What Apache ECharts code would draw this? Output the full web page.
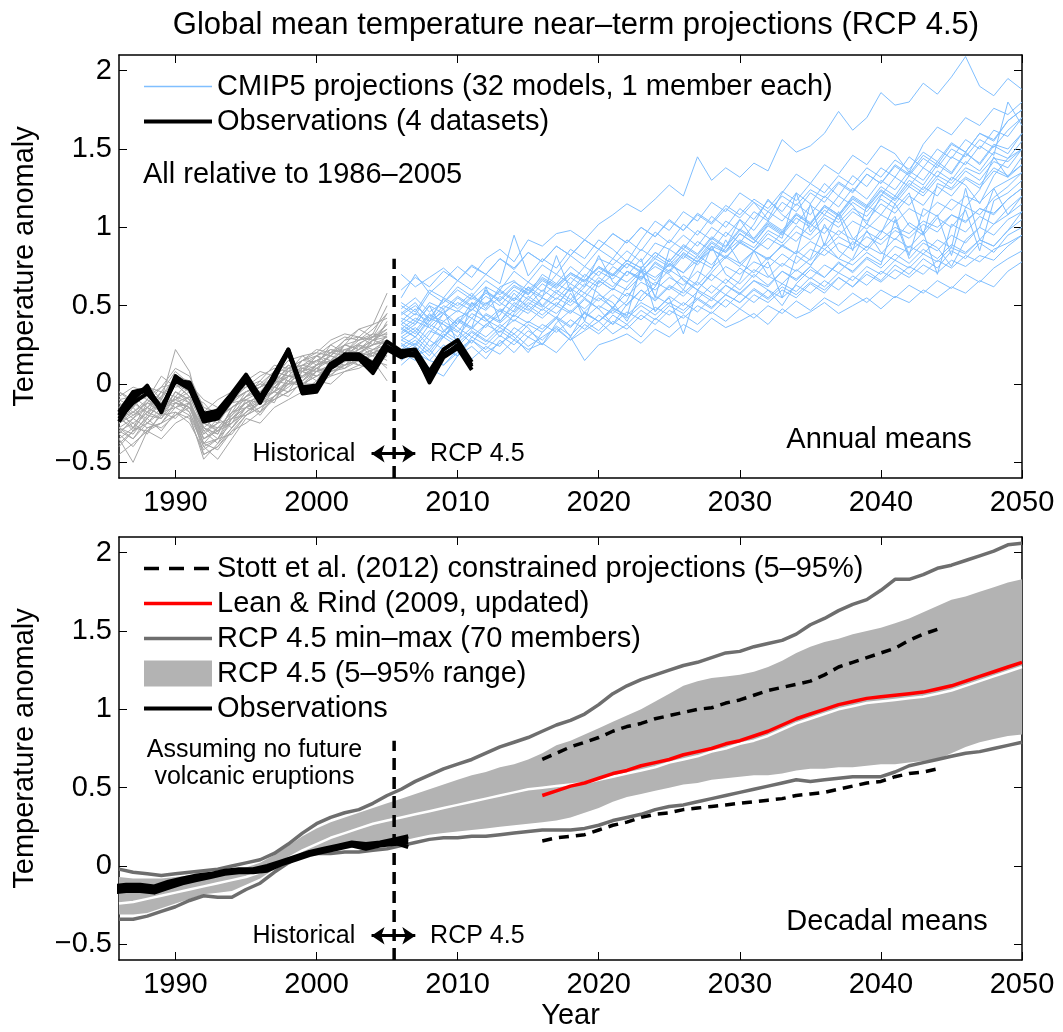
<!DOCTYPE html>
<html>
<head>
<meta charset="utf-8">
<script src="https://cdn.jsdelivr.net/npm/echarts@6/dist/echarts.min.js"></script>
<style>
html,body{margin:0;padding:0;background:#fff}
#chart{width:1063px;height:1032px}
</style>
</head>
<body>
<div id="chart"></div>
<script>
// ---------- years ----------
const histYears = [1986,1987,1988,1989,1990,1991,1992,1993,1994,1995,1996,1997,1998,1999,2000,2001,2002,2003,2004,2005];
const projYears = [2006,2007,2008,2009,2010,2011,2012,2013,2014,2015,2016,2017,2018,2019,2020,2021,2022,2023,2024,2025,2026,2027,2028,2029,2030,2031,2032,2033,2034,2035,2036,2037,2038,2039,2040,2041,2042,2043,2044,2045,2046,2047,2048,2049,2050];
const obsYears = [1986,1987,1988,1989,1990,1991,1992,1993,1994,1995,1996,1997,1998,1999,2000,2001,2002,2003,2004,2005,2006,2007,2008,2009,2010,2011];
const decYears = [1986,1987,1988,1989,1990,1991,1992,1993,1994,1995,1996,1997,1998,1999,2000,2001,2002,2003,2004,2005,2006,2007,2008,2009,2010,2011,2012,2013,2014,2015,2016,2017,2018,2019,2020,2021,2022,2023,2024,2025,2026,2027,2028,2029,2030,2031,2032,2033,2034,2035,2036,2037,2038,2039,2040,2041,2042,2043,2044,2045,2046,2047,2048,2049,2050];
const decObsYears = [1985.5,1986.5,1987.5,1988.5,1989.5,1990.5,1991.5,1992.5,1993.5,1994.5,1995.5,1996.5,1997.5,1998.5,1999.5,2000.5,2001.5,2002.5,2003.5,2004.5,2005.5,2006.5];
const stottYears = [2016,2017,2018,2019,2020,2021,2022,2023,2024,2025,2026,2027,2028,2029,2030,2031,2032,2033,2034,2035,2036,2037,2038,2039,2040,2041,2042,2043,2044];
const leanRindYears = [2016,2017,2018,2019,2020,2021,2022,2023,2024,2025,2026,2027,2028,2029,2030,2031,2032,2033,2034,2035,2036,2037,2038,2039,2040,2041,2042,2043,2044,2045,2046,2047,2048,2049,2050];

// ---------- tick labels ----------
const yearTicks = [1990,2000,2010,2020,2030,2040,2050];
const anomalyTicks = [-0.5,0,0.5,1,1.5,2];

// ---------- annual means: CMIP5 historical runs (1986-2005) ----------
const cmip5Historical = [
[-0.25,-0.20,-0.12,-0.18,-0.05,-0.10,-0.35,-0.30,-0.22,-0.15,-0.05,-0.02,0.05,0.02,0.12,0.18,0.15,0.22,0.25,0.30],
[-0.30,-0.35,-0.22,-0.10,-0.15,-0.08,-0.28,-0.35,-0.25,-0.10,-0.12,0.00,0.08,0.10,0.05,0.12,0.20,0.18,0.28,0.25],
[-0.10,-0.15,-0.05,-0.12,0.00,-0.05,-0.25,-0.20,-0.15,-0.08,0.02,-0.05,0.10,0.12,0.15,0.20,0.25,0.22,0.30,0.35],
[-0.35,-0.28,-0.30,-0.20,-0.18,-0.22,-0.45,-0.40,-0.30,-0.25,-0.18,-0.10,-0.05,0.00,0.05,0.08,0.10,0.15,0.12,0.20],
[-0.15,-0.05,-0.10,0.05,-0.02,0.00,-0.20,-0.25,-0.10,-0.05,0.00,0.08,0.05,0.15,0.20,0.18,0.28,0.30,0.25,0.40],
[-0.20,-0.25,-0.18,-0.22,-0.12,-0.15,-0.32,-0.22,-0.28,-0.18,-0.12,-0.05,0.00,0.08,0.02,0.15,0.12,0.20,0.18,0.22],
[-0.40,-0.30,-0.25,-0.28,-0.20,-0.12,-0.38,-0.42,-0.30,-0.20,-0.15,-0.08,-0.02,0.05,0.10,0.05,0.15,0.18,0.22,0.28],
[-0.05,-0.12,-0.08,-0.02,0.10,0.05,-0.15,-0.18,-0.08,0.00,-0.05,0.05,0.12,0.08,0.18,0.22,0.20,0.30,0.28,0.38],
[-0.28,-0.22,-0.15,-0.20,-0.08,-0.18,-0.40,-0.35,-0.18,-0.12,-0.20,-0.08,0.02,-0.02,0.08,0.10,0.18,0.12,0.20,0.18],
[-0.18,-0.10,-0.20,-0.08,0.02,-0.05,-0.22,-0.30,-0.20,-0.08,-0.02,0.02,0.00,0.10,0.15,0.12,0.22,0.25,0.32,0.30],
[-0.22,-0.28,-0.12,-0.15,-0.10,-0.02,-0.30,-0.25,-0.22,-0.15,-0.08,-0.12,0.05,0.08,0.12,0.18,0.14,0.20,0.25,0.27],
[-0.32,-0.40,-0.28,-0.25,-0.15,-0.20,-0.48,-0.38,-0.28,-0.18,-0.10,-0.05,-0.08,0.02,0.08,0.12,0.10,0.18,0.20,0.15],
[-0.08,-0.02,-0.05,-0.10,0.05,0.02,-0.18,-0.10,-0.05,-0.02,0.05,0.10,0.08,0.18,0.12,0.25,0.30,0.28,0.35,0.45],
[-0.25,-0.18,-0.22,-0.12,-0.10,-0.15,-0.28,-0.32,-0.15,-0.10,-0.18,-0.02,0.05,0.04,0.10,0.15,0.18,0.24,0.18,0.32],
[-0.45,-0.38,-0.30,-0.35,-0.25,-0.20,-0.40,-0.48,-0.35,-0.22,-0.25,-0.15,-0.10,-0.05,0.02,0.00,0.08,0.10,0.15,0.12],
[-0.12,-0.20,-0.15,-0.05,-0.08,0.02,-0.22,-0.15,-0.12,0.00,-0.08,0.05,0.15,0.10,0.08,0.20,0.22,0.18,0.28,0.33],
[-0.20,-0.15,0.00,-0.10,0.22,0.08,-0.28,-0.20,-0.10,-0.05,-0.02,0.02,0.10,0.15,0.18,0.12,0.25,0.35,0.30,0.45],
[-0.30,-0.25,-0.32,-0.18,-0.22,-0.12,-0.35,-0.28,-0.25,-0.15,-0.12,-0.02,-0.05,0.08,0.05,0.10,0.15,0.12,0.22,0.20],
[-0.15,-0.22,-0.10,-0.15,0.00,-0.08,-0.25,-0.28,-0.18,-0.05,0.00,-0.02,0.08,0.12,0.18,0.25,0.20,0.28,0.32,0.50],
[-0.35,-0.50,-0.30,-0.25,-0.20,-0.15,-0.38,-0.35,-0.22,-0.20,-0.12,-0.10,0.00,0.02,0.10,0.08,0.12,0.15,0.20,0.22],
[-0.18,-0.12,-0.18,-0.05,-0.12,-0.08,-0.12,-0.22,-0.15,-0.08,-0.02,0.05,0.02,0.12,0.10,0.18,0.25,0.22,0.28,0.30],
[-0.28,-0.32,-0.20,-0.22,-0.08,-0.12,-0.30,-0.38,-0.22,-0.12,-0.08,-0.05,0.08,0.05,0.12,0.15,0.18,0.25,0.22,0.25],
[-0.10,-0.08,-0.15,-0.08,0.05,-0.02,-0.20,-0.22,-0.10,-0.02,0.02,0.12,0.10,0.15,0.22,0.20,0.28,0.35,0.38,0.42],
[-0.38,-0.30,-0.22,-0.30,-0.18,-0.25,-0.42,-0.35,-0.32,-0.20,-0.15,-0.10,-0.05,0.00,0.00,0.05,0.08,0.12,0.10,0.18],
[-0.22,-0.18,-0.10,-0.18,-0.05,-0.10,-0.32,-0.25,-0.12,-0.10,-0.05,0.02,0.10,0.08,0.15,0.20,0.18,0.22,0.28,0.35],
[-0.15,-0.28,-0.18,-0.12,-0.10,-0.05,-0.25,-0.30,-0.20,-0.12,-0.08,0.00,0.05,0.05,0.12,0.15,0.22,0.20,0.25,0.28],
[-0.25,-0.15,-0.25,-0.15,-0.12,-0.18,-0.38,-0.28,-0.18,-0.15,-0.10,-0.05,0.02,0.10,0.08,0.12,0.18,0.25,0.20,0.24],
[-0.05,-0.10,-0.02,-0.05,0.08,0.00,-0.10,-0.15,-0.05,0.02,0.08,0.05,0.15,0.18,0.20,0.28,0.32,0.30,0.38,0.58],
[-0.32,-0.22,-0.28,-0.25,-0.12,-0.15,-0.35,-0.30,-0.25,-0.18,-0.12,-0.08,0.00,0.00,0.05,0.10,0.12,0.15,0.18,0.10],
[-0.20,-0.30,-0.15,-0.20,-0.05,-0.12,-0.28,-0.32,-0.15,-0.08,-0.05,0.00,0.12,0.08,0.18,0.15,0.25,0.28,0.30,0.38],
[-0.12,-0.18,-0.12,-0.02,0.00,-0.08,-0.20,-0.18,-0.12,-0.05,-0.02,0.08,0.05,0.15,0.14,0.22,0.20,0.26,0.30,0.32],
[-0.28,-0.35,-0.25,-0.18,-0.15,-0.12,-0.45,-0.40,-0.28,-0.15,-0.18,-0.08,0.02,0.00,0.08,0.06,0.12,0.18,0.15,0.02]
];

// ---------- annual means: CMIP5 RCP4.5 runs (2006-2050) ----------
const cmip5Rcp45 = [
[0.30,0.25,0.38,0.33,0.42,0.36,0.62,0.40,0.52,0.47,0.55,0.50,0.62,0.40,0.66,0.60,0.72,0.68,0.75,0.70,0.60,0.78,0.88,0.84,0.92,0.87,0.98,0.93,1.22,0.97,1.08,1.03,1.12,1.07,1.18,1.12,1.22,0.95,1.28,1.24,1.32,1.27,1.38,1.33,1.40],
[0.45,0.52,0.40,0.55,0.50,0.58,0.48,0.62,0.66,0.57,0.70,0.64,0.75,0.68,0.80,0.76,0.85,0.78,0.90,0.86,0.95,0.88,1.00,0.94,1.05,0.98,1.10,1.04,1.15,1.08,1.20,1.13,1.25,1.18,1.30,1.24,1.36,1.30,1.42,1.35,1.48,1.40,1.52,1.47,1.60],
[0.20,0.15,0.28,0.22,0.18,0.30,0.25,0.34,0.28,0.38,0.33,0.42,0.58,0.45,0.40,0.48,0.44,0.52,0.47,0.55,0.32,0.60,0.55,0.63,0.58,0.66,0.62,0.72,0.67,0.75,0.90,0.80,0.76,0.84,0.78,0.88,0.84,0.92,0.87,0.75,0.92,1.00,0.95,1.05,1.10],
[0.55,0.70,0.58,0.66,0.75,0.68,0.80,0.86,0.78,0.92,0.88,0.96,0.98,0.92,1.02,1.08,1.15,1.10,1.18,1.27,1.20,1.45,1.30,1.38,1.32,1.41,1.36,1.56,1.48,1.52,1.60,1.74,1.62,1.70,1.86,1.78,1.80,1.92,1.85,1.96,2.09,1.90,1.84,1.95,1.88],
[0.35,0.30,0.42,0.38,0.33,0.45,0.40,0.48,0.43,0.52,0.47,0.55,0.50,0.58,0.53,0.61,0.56,0.65,0.60,0.68,0.63,0.72,0.66,0.75,0.70,0.78,0.74,0.83,0.77,0.86,0.82,0.90,0.86,0.94,0.89,0.98,0.93,1.02,0.97,1.08,1.03,1.12,1.08,1.18,1.25],
[0.25,0.18,0.22,0.12,0.20,0.16,0.24,0.19,0.28,0.22,0.26,0.20,0.30,0.15,0.25,0.28,0.32,0.26,0.35,0.30,0.38,0.33,0.42,0.36,0.40,0.45,0.38,0.48,0.42,0.46,0.52,0.45,0.50,0.55,0.48,0.56,0.52,0.60,0.55,0.62,0.58,0.66,0.62,0.72,0.78],
[0.40,0.48,0.36,0.45,0.52,0.47,0.56,0.50,0.60,0.54,0.64,0.58,0.68,0.62,0.72,0.67,0.77,0.71,0.82,0.76,0.86,0.80,0.91,0.85,0.96,0.90,1.01,0.95,1.06,1.00,1.11,1.05,1.16,1.10,1.21,1.15,1.26,1.20,1.31,1.25,1.36,1.30,1.42,1.38,1.50],
[0.15,0.22,0.10,0.05,0.18,0.24,0.16,0.28,0.20,0.30,0.25,0.35,0.28,0.38,0.32,0.40,0.35,0.44,0.38,0.47,0.42,0.50,0.45,0.54,0.48,0.57,0.52,0.60,0.55,0.64,0.58,0.68,0.62,0.72,0.66,0.76,0.70,0.80,0.74,0.85,0.80,0.90,0.84,0.95,1.00],
[0.50,0.44,0.58,0.52,0.62,0.56,0.66,0.60,0.72,0.65,0.76,0.70,0.82,0.75,0.86,0.80,0.92,0.85,0.97,0.90,1.02,0.95,1.07,1.00,1.12,1.05,1.17,1.10,1.22,1.15,1.28,1.20,1.33,1.26,1.38,1.32,1.45,1.38,1.50,1.44,1.56,1.50,1.62,1.58,1.70],
[0.30,0.36,0.28,0.40,0.34,0.26,0.38,0.44,0.58,0.48,0.42,0.50,0.45,0.54,0.48,0.38,0.51,0.60,0.54,0.63,0.58,0.66,0.88,0.70,0.64,0.73,0.68,0.77,0.72,0.80,1.02,0.85,0.79,0.88,0.83,0.93,0.87,0.97,0.70,1.02,0.97,1.07,1.02,1.12,1.20],
[0.38,0.32,0.44,0.40,0.47,0.42,0.52,0.46,0.55,0.50,0.60,0.54,0.64,0.58,0.68,0.62,0.72,0.67,0.77,0.71,0.82,0.76,0.86,0.80,0.91,0.85,0.96,0.90,1.01,0.95,1.06,1.00,1.10,1.04,1.15,1.09,1.20,1.14,1.26,1.20,1.31,1.25,1.36,1.32,1.45],
[0.22,0.28,0.20,0.32,0.26,0.34,0.28,0.24,0.36,0.30,0.38,0.33,0.41,0.35,0.44,0.38,0.46,0.41,0.49,0.44,0.52,0.46,0.55,0.49,0.58,0.52,0.60,0.55,0.63,0.58,0.66,0.60,0.69,0.63,0.72,0.67,0.75,0.70,0.79,0.74,0.82,0.78,0.86,0.90,0.95],
[0.60,0.68,0.62,0.72,0.66,0.75,0.70,0.80,0.74,0.84,0.78,0.88,0.82,0.92,0.86,0.96,0.90,1.00,0.94,1.05,0.98,1.09,1.03,1.14,1.08,1.18,1.12,1.23,1.17,1.28,1.22,1.33,1.27,1.38,1.32,1.43,1.37,1.48,1.42,1.54,1.48,1.60,1.55,1.68,1.75],
[0.28,0.34,0.24,0.30,0.38,0.52,0.41,0.36,0.44,0.39,0.48,0.42,0.30,0.46,0.55,0.49,0.58,0.53,0.62,0.80,0.66,0.60,0.70,0.64,0.74,0.68,0.78,0.55,0.82,0.76,0.86,0.80,0.91,0.85,0.96,1.15,1.01,0.95,1.06,1.00,1.11,0.85,1.17,1.22,1.30],
[0.42,0.38,0.50,0.45,0.55,0.49,0.58,0.53,0.62,0.57,0.66,0.61,0.70,0.65,0.75,0.69,0.79,0.74,0.84,0.78,0.89,0.83,0.94,0.88,0.99,0.93,1.04,0.98,1.09,1.03,1.14,1.08,1.19,1.13,1.24,1.18,1.30,1.24,1.36,1.30,1.42,1.36,1.48,1.44,1.55],
[0.18,0.24,0.15,0.12,0.22,0.28,0.20,0.26,0.32,0.24,0.30,0.36,0.28,0.34,0.40,0.32,0.38,0.30,0.42,0.36,0.44,0.38,0.46,0.40,0.48,0.42,0.50,0.45,0.53,0.47,0.55,0.50,0.58,0.52,0.60,0.55,0.63,0.58,0.66,0.61,0.70,0.65,0.74,0.80,0.85],
[0.35,0.42,0.38,0.48,0.25,0.52,0.47,0.56,0.50,0.60,0.55,0.82,0.59,0.70,0.64,0.75,0.69,0.80,0.55,0.86,0.80,0.91,0.85,0.97,0.90,1.02,1.18,1.08,1.02,1.14,1.08,1.20,1.14,1.02,1.20,1.32,1.26,1.38,1.32,1.45,1.40,1.52,1.46,1.80,1.65],
[0.48,0.55,0.46,0.52,0.60,0.54,0.62,0.57,0.65,0.60,0.68,0.63,0.71,0.66,0.74,0.69,0.77,0.72,0.80,0.75,0.83,0.78,0.86,0.81,0.90,0.85,0.93,0.88,0.97,0.92,1.00,0.95,1.04,0.99,1.08,1.03,1.12,1.07,1.16,1.11,1.20,1.16,1.25,1.30,1.35],
[0.26,0.20,0.32,0.45,0.36,0.30,0.38,0.33,0.41,0.36,0.25,0.39,0.47,0.42,0.50,0.45,0.53,0.72,0.56,0.51,0.60,0.54,0.63,0.57,0.66,0.85,0.69,0.64,0.73,0.67,0.76,0.71,0.80,0.98,0.84,0.79,0.88,0.83,0.92,0.87,1.25,0.92,1.02,1.08,1.15],
[0.33,0.40,0.36,0.30,0.42,0.47,0.60,0.52,0.46,0.56,0.50,0.60,0.54,0.64,0.58,0.48,0.62,0.72,0.66,0.77,0.71,0.82,0.76,0.87,1.05,0.92,0.86,0.97,0.91,1.02,0.96,1.08,0.85,1.14,1.08,1.20,1.14,1.26,1.20,1.32,1.27,1.15,1.33,1.44,1.50],
[0.40,0.34,0.45,0.38,0.30,0.42,0.36,0.47,0.40,0.50,0.44,0.52,0.46,0.55,0.48,0.57,0.50,0.60,0.53,0.62,0.56,0.65,0.58,0.67,0.60,0.70,0.63,0.72,0.66,0.75,0.68,0.78,0.71,0.80,0.74,0.83,0.77,0.86,0.80,0.89,0.84,0.92,0.88,0.98,1.05],
[0.52,0.46,0.60,0.55,0.66,0.60,0.70,0.64,0.95,0.69,0.80,0.74,0.86,0.80,0.92,0.86,0.78,0.92,1.04,0.98,1.10,1.04,1.16,1.10,1.22,1.16,1.05,1.22,1.34,1.28,1.40,1.34,1.46,1.40,1.52,1.47,1.35,1.53,1.64,1.59,1.70,1.65,1.76,1.72,1.80],
[0.12,0.20,0.15,0.25,0.18,0.28,0.22,0.31,0.25,0.34,0.28,0.37,0.31,0.40,0.34,0.44,0.38,0.47,0.41,0.50,0.45,0.54,0.48,0.57,0.52,0.61,0.55,0.64,0.59,0.68,0.62,0.71,0.66,0.75,0.70,0.79,0.74,0.83,0.78,0.87,0.83,0.92,0.88,0.98,1.10],
[0.36,0.30,0.40,0.46,0.38,0.48,0.42,0.30,0.45,0.54,0.49,0.58,0.52,0.62,0.82,0.65,0.60,0.69,0.63,0.73,0.67,0.60,0.71,0.81,0.75,0.85,0.79,0.89,0.83,1.15,0.88,0.98,0.92,1.02,0.97,1.07,0.82,1.12,1.07,1.18,1.13,1.24,1.45,1.32,1.40],
[0.44,0.50,0.42,0.54,0.48,0.56,0.51,0.59,0.53,0.62,0.56,0.64,0.59,0.67,0.62,0.70,0.65,0.73,0.68,0.76,0.71,0.79,0.74,0.82,0.77,0.85,0.80,0.88,0.83,0.91,0.86,0.94,0.89,0.97,0.92,1.00,0.96,1.04,1.00,1.08,1.04,1.12,1.09,1.18,1.25],
[0.28,0.24,0.34,0.30,0.40,0.35,0.45,0.40,0.50,0.45,0.55,0.50,0.61,0.55,0.66,0.60,0.72,0.66,0.78,0.72,0.84,0.78,0.90,0.84,0.96,0.90,1.02,0.96,1.08,1.02,1.14,1.08,1.20,1.14,1.26,1.20,1.33,1.27,1.40,1.34,1.47,1.41,1.53,1.50,1.60],
[0.70,0.62,0.68,0.74,0.66,0.76,0.70,0.80,0.73,0.84,0.78,0.88,0.82,0.92,0.86,0.96,0.90,1.00,0.94,1.04,0.98,1.08,1.02,1.12,1.06,1.16,1.10,1.20,1.14,1.24,1.19,1.29,1.23,1.34,1.28,1.39,1.33,1.44,1.38,1.50,1.45,1.56,1.51,1.62,1.70],
[0.20,0.26,0.18,0.30,0.24,0.33,0.27,0.36,0.30,0.20,0.33,0.42,0.36,0.46,0.40,0.49,0.43,0.75,0.46,0.56,0.50,0.59,0.53,0.63,0.57,0.66,0.60,0.50,0.64,0.73,0.68,0.77,0.72,0.81,0.76,1.05,0.80,0.90,0.85,0.95,0.90,1.00,1.25,1.08,1.20],
[0.32,0.38,0.50,0.34,0.41,0.36,0.44,0.39,0.47,0.62,0.50,0.45,0.54,0.48,0.57,0.52,0.40,0.56,0.65,0.60,0.69,0.63,0.73,0.92,0.77,0.71,0.81,0.75,0.85,0.79,0.89,1.10,0.93,0.87,0.98,0.92,1.03,0.97,1.08,0.82,1.13,1.08,1.19,1.26,1.35],
[0.46,0.40,0.52,0.48,0.56,0.50,0.59,0.54,0.63,0.58,0.67,0.62,0.71,0.66,0.75,0.70,0.79,0.74,0.84,0.78,0.88,0.82,0.93,0.87,0.98,0.92,1.03,0.97,1.08,1.02,1.13,1.07,1.18,1.12,1.23,1.17,1.28,1.22,1.33,1.28,1.38,1.34,1.44,1.42,1.50],
[0.24,0.30,0.22,0.34,0.28,0.36,0.30,0.38,0.32,0.40,0.35,0.43,0.37,0.45,0.40,0.47,0.42,0.50,0.44,0.52,0.47,0.55,0.49,0.57,0.52,0.60,0.54,0.62,0.57,0.65,0.60,0.68,0.62,0.70,0.65,0.73,0.68,0.76,0.71,0.79,0.75,0.82,0.79,0.88,0.95],
[0.38,0.45,0.40,0.50,0.46,0.55,0.50,0.60,0.54,0.65,0.59,0.70,0.64,0.75,0.69,0.80,0.74,0.86,0.80,0.92,0.86,0.98,0.92,1.04,0.98,1.10,1.04,1.16,1.10,1.22,1.16,1.28,1.22,1.34,1.28,1.40,1.34,1.46,1.40,1.53,1.48,1.60,1.56,1.68,1.75]
];

// ---------- annual means: four observational datasets (1986-2011) ----------
const obsAnnual = [
[-0.20,-0.07,-0.04,-0.17,0.03,0.00,-0.21,-0.18,-0.08,0.05,-0.10,0.06,0.22,-0.03,-0.03,0.12,0.17,0.18,0.10,0.23,0.20,0.19,0.06,0.19,0.24,0.12],
[-0.24,-0.10,-0.01,-0.18,0.05,-0.02,-0.24,-0.22,-0.10,0.04,-0.11,0.03,0.22,-0.05,-0.04,0.11,0.19,0.19,0.13,0.27,0.21,0.22,0.08,0.22,0.28,0.14],
[-0.18,-0.05,-0.03,-0.15,0.02,0.01,-0.19,-0.17,-0.06,0.06,-0.08,0.05,0.20,-0.02,-0.01,0.13,0.18,0.17,0.08,0.24,0.19,0.18,0.03,0.18,0.25,0.11],
[-0.22,-0.12,-0.06,-0.16,0.02,-0.03,-0.23,-0.20,-0.09,0.02,-0.12,0.06,0.21,-0.06,-0.05,0.10,0.16,0.16,0.07,0.22,0.17,0.20,0.01,0.17,0.23,0.09]
];

// ---------- decadal means (1986-2050) ----------
const rcpMax = [-0.02,-0.04,-0.05,-0.06,-0.05,-0.04,-0.03,-0.02,0.00,0.02,0.04,0.08,0.14,0.21,0.27,0.31,0.34,0.36,0.40,0.45,0.49,0.54,0.58,0.62,0.65,0.68,0.72,0.76,0.79,0.82,0.86,0.90,0.93,0.97,1.03,1.10,1.15,1.19,1.22,1.25,1.28,1.30,1.33,1.36,1.37,1.40,1.42,1.44,1.48,1.54,1.58,1.63,1.67,1.70,1.76,1.83,1.83,1.86,1.90,1.92,1.95,1.98,2.01,2.05,2.06];
const rcpMin = [-0.34,-0.34,-0.32,-0.29,-0.26,-0.22,-0.19,-0.20,-0.20,-0.15,-0.11,-0.04,0.02,0.07,0.08,0.08,0.09,0.09,0.10,0.11,0.13,0.15,0.17,0.18,0.18,0.19,0.19,0.20,0.21,0.22,0.23,0.23,0.23,0.24,0.26,0.29,0.31,0.33,0.36,0.38,0.39,0.41,0.43,0.45,0.47,0.49,0.51,0.53,0.55,0.54,0.55,0.56,0.57,0.57,0.57,0.60,0.64,0.66,0.68,0.70,0.72,0.73,0.75,0.77,0.79];
const rcpP95 = [-0.07,-0.08,-0.08,-0.08,-0.07,-0.06,-0.05,-0.04,-0.03,-0.01,0.02,0.07,0.13,0.19,0.24,0.28,0.31,0.34,0.37,0.40,0.43,0.46,0.49,0.52,0.55,0.58,0.60,0.63,0.65,0.68,0.72,0.77,0.80,0.84,0.88,0.92,0.96,1.00,1.05,1.10,1.15,1.18,1.20,1.21,1.22,1.24,1.27,1.31,1.36,1.40,1.43,1.45,1.48,1.50,1.52,1.55,1.58,1.62,1.66,1.70,1.72,1.75,1.78,1.81,1.83];
const rcpP05 = [-0.31,-0.31,-0.30,-0.27,-0.24,-0.21,-0.18,-0.17,-0.16,-0.12,-0.08,-0.02,0.03,0.07,0.09,0.10,0.11,0.12,0.13,0.14,0.16,0.18,0.20,0.21,0.22,0.23,0.24,0.25,0.26,0.27,0.28,0.29,0.31,0.34,0.37,0.41,0.44,0.46,0.48,0.50,0.52,0.53,0.55,0.56,0.57,0.58,0.58,0.59,0.61,0.62,0.62,0.63,0.63,0.64,0.65,0.65,0.66,0.67,0.68,0.72,0.76,0.79,0.81,0.83,0.84];
const rcpMedian = [-0.24,-0.23,-0.21,-0.19,-0.17,-0.15,-0.13,-0.11,-0.09,-0.07,-0.04,0.00,0.05,0.10,0.14,0.18,0.21,0.24,0.27,0.29,0.31,0.33,0.35,0.37,0.39,0.41,0.43,0.45,0.47,0.49,0.50,0.51,0.52,0.53,0.55,0.57,0.59,0.61,0.63,0.66,0.68,0.70,0.73,0.75,0.78,0.80,0.83,0.87,0.91,0.94,0.97,1.00,1.02,1.04,1.05,1.06,1.07,1.08,1.10,1.12,1.15,1.18,1.21,1.24,1.27];

const stottUpper = [0.68,0.72,0.76,0.79,0.82,0.86,0.89,0.91,0.94,0.96,0.98,1.00,1.01,1.04,1.06,1.09,1.12,1.14,1.16,1.18,1.22,1.27,1.30,1.33,1.36,1.39,1.44,1.48,1.51];
const stottLower = [0.16,0.18,0.19,0.20,0.23,0.26,0.28,0.31,0.33,0.34,0.36,0.37,0.38,0.39,0.40,0.41,0.42,0.43,0.45,0.46,0.47,0.49,0.51,0.53,0.54,0.57,0.59,0.60,0.62];
const leanRind = [0.45,0.48,0.51,0.53,0.56,0.59,0.61,0.64,0.66,0.68,0.71,0.73,0.75,0.78,0.80,0.83,0.86,0.90,0.94,0.97,1.00,1.03,1.05,1.07,1.08,1.09,1.10,1.11,1.13,1.15,1.18,1.21,1.24,1.27,1.30];

const obsDecadal = [
[-0.15,-0.14,-0.14,-0.15,-0.12,-0.10,-0.08,-0.06,-0.04,-0.03,-0.03,-0.02,0.02,0.05,0.08,0.10,0.12,0.14,0.12,0.14,0.16,0.17],
[-0.17,-0.16,-0.16,-0.17,-0.14,-0.11,-0.09,-0.07,-0.05,-0.04,-0.04,-0.03,0.01,0.04,0.07,0.09,0.11,0.13,0.11,0.13,0.14,0.15],
[-0.13,-0.12,-0.12,-0.13,-0.10,-0.08,-0.06,-0.05,-0.03,-0.02,-0.02,0.00,0.03,0.06,0.09,0.11,0.13,0.15,0.14,0.15,0.17,0.19],
[-0.16,-0.15,-0.15,-0.16,-0.13,-0.10,-0.08,-0.06,-0.04,-0.03,-0.03,-0.02,0.02,0.05,0.08,0.10,0.12,0.14,0.12,0.14,0.15,0.12]
];

// ---------- names ----------
const NAME_CMIP = 'CMIP5 projections (32 models, 1 member each)';
const NAME_OBS4 = 'Observations (4 datasets)';
const NAME_STOTT = 'Stott et al. (2012) constrained projections (5\u201395%)';
const NAME_LR = 'Lean & Rind (2009, updated)';
const NAME_MINMAX = 'RCP 4.5 min\u2013max (70 members)';
const NAME_BAND = 'RCP 4.5 (5\u201395% range)';
const NAME_OBS = 'Observations';

// ---------- drawing ----------
const FONT = '"Liberation Sans", Arial, Helvetica, sans-serif';
const BIG = 29;
const SMALL = 25;
const pairs = (xs, ys) => ys.map((v, i) => [xs[i], v]);

function lineSeries(name, axis, xs, ys, color, width, type, z) {
  return {
    type: 'line', name, xAxisIndex: axis, yAxisIndex: axis,
    data: pairs(xs, ys), symbol: 'none', silent: true, z: z || 2,
    itemStyle: { color },
    lineStyle: { color, width, type: type || 'solid', cap: 'butt', join: 'round' },
    emphasis: { disabled: true }
  };
}

function divider(axis) {
  return {
    type: 'line', name: 'divider', xAxisIndex: axis, yAxisIndex: axis,
    data: [[2005.5, -0.6], [2005.5, 0.8]], symbol: 'none', silent: true, z: 6,
    lineStyle: { color: '#000', width: 3.5, type: [12, 7] },
    markLine: {
      silent: true, animation: false, symbol: ['arrow', 'arrow'], symbolSize: [13, 13],
      label: { show: false },
      lineStyle: { color: '#000', width: 3, type: 'solid' },
      data: [[{ coord: [2003.9, -0.445] }, { coord: [2007.0, -0.445] }]]
    }
  };
}

// free text placed at data coordinates
function notes(axis, items) {
  return {
    type: 'scatter', name: 'notes', xAxisIndex: axis, yAxisIndex: axis,
    symbolSize: 2, itemStyle: { color: 'rgba(255,255,255,0)' }, silent: true, z: 10,
    label: { show: true, position: [1, 1], formatter: p => p.name, color: '#000', opacity: 1, fontFamily: FONT },
    data: items.map(it => ({
      name: it.text, value: it.at,
      label: { color: '#000', opacity: 1, align: it.align, verticalAlign: 'middle', fontSize: it.size, lineHeight: it.lineHeight || it.size }
    }))
  };
}

// 5-95% envelope as one polygon through the axis scales
function envelope(axis, xs, lo, hi) {
  return {
    type: 'custom', name: NAME_BAND, xAxisIndex: axis, yAxisIndex: axis, silent: true, z: 1,
    itemStyle: { color: '#b3b3b3' },
    data: xs.map((x, i) => [x, lo[i], hi[i]]),
    encode: { x: 0, y: [1, 2] },
    renderItem: (params, api) => {
      if (params.dataIndex !== 0) return null;
      const pts = [];
      xs.forEach((x, i) => pts.push(api.coord([x, hi[i]])));
      for (let i = xs.length - 1; i >= 0; i--) pts.push(api.coord([xs[i], lo[i]]));
      return { type: 'polygon', shape: { points: pts }, style: { fill: '#b3b3b3', stroke: null } };
    }
  };
}

const series = [];

// --- top panel: annual means ---
cmip5Historical.forEach(run => series.push(lineSeries('CMIP5 historical', 0, histYears, run, '#a6a6a6', 1)));
cmip5Rcp45.forEach(run => series.push(lineSeries(NAME_CMIP, 0, projYears, run, '#80bfff', 1)));
obsAnnual.forEach(run => series.push(lineSeries(NAME_OBS4, 0, obsYears, run, '#000', 4, 'solid', 4)));
series.push(divider(0));
series.push(notes(0, [
  { text: 'All relative to 1986\u20132005', at: [1987.7, 1.335], align: 'left', size: BIG },
  { text: 'Historical', at: [2002.75, -0.445], align: 'right', size: SMALL },
  { text: 'RCP 4.5', at: [2008.05, -0.445], align: 'left', size: SMALL },
  { text: 'Annual means', at: [2033.3, -0.36], align: 'left', size: BIG }
]));

// --- bottom panel: decadal means ---
series.push(envelope(2, decYears, rcpP05, rcpP95));
series.push(lineSeries('RCP 4.5 median', 2, decYears, rcpMedian, '#ffffff', 2.5, 'solid', 2));
series.push(lineSeries(NAME_MINMAX, 2, decYears, rcpMax, '#6e6e6e', 3.5, 'solid', 3));
series.push(lineSeries(NAME_MINMAX, 2, decYears, rcpMin, '#6e6e6e', 3.5, 'solid', 3));
series.push(lineSeries(NAME_LR, 2, leanRindYears, leanRind, '#ff0000', 3.5, 'solid', 4));
series.push(lineSeries(NAME_STOTT, 2, stottYears, stottUpper, '#000', 3.5, [10, 7], 4));
series.push(lineSeries(NAME_STOTT, 2, stottYears, stottLower, '#000', 3.5, [10, 7], 4));
obsDecadal.forEach(run => series.push(lineSeries(NAME_OBS, 2, decObsYears, run, '#000', 4, 'solid', 5)));
series.push(divider(2));
series.push(notes(2, [
  { text: 'Assuming no future\nvolcanic eruptions', at: [1995.6, 0.653], align: 'center', size: SMALL, lineHeight: 27 },
  { text: 'Historical', at: [2002.75, -0.445], align: 'right', size: SMALL },
  { text: 'RCP 4.5', at: [2008.05, -0.445], align: 'left', size: SMALL },
  { text: 'Decadal means', at: [2033.3, -0.36], align: 'left', size: BIG }
]));

// ---------- axes ----------
const frame = { onZero: false, lineStyle: { color: '#000', width: 1.5 } };
const tick = vals => ({ inside: true, length: 8, customValues: vals, lineStyle: { color: '#000', width: 1 } });
const minusFmt = v => (v < 0 ? '\u2212' : '') + Math.abs(v);

function xPair(grid, withName) {
  return [
    {
      type: 'value', gridIndex: grid, min: 1986, max: 2050, position: 'bottom',
      axisLine: frame, axisTick: tick(yearTicks), splitLine: { show: false },
      axisLabel: { customValues: yearTicks, formatter: v => String(v), fontSize: BIG, color: '#000', margin: 10, fontFamily: FONT },
      name: withName ? 'Year' : '', nameLocation: 'middle', nameGap: 41,
      nameTextStyle: { fontSize: BIG, color: '#000', fontFamily: FONT }
    },
    {
      type: 'value', gridIndex: grid, min: 1986, max: 2050, position: 'top',
      axisLine: frame, axisTick: tick(yearTicks), splitLine: { show: false }, axisLabel: { show: false }
    }
  ];
}
function yPair(grid) {
  return [
    {
      type: 'value', gridIndex: grid, min: -0.6, max: 2.1, position: 'left',
      axisLine: frame, axisTick: tick(anomalyTicks), splitLine: { show: false },
      axisLabel: { customValues: anomalyTicks, formatter: minusFmt, fontSize: BIG, color: '#000', margin: 7, fontFamily: FONT },
      name: 'Temperature anomaly', nameLocation: 'middle', nameGap: 80,
      nameTextStyle: { fontSize: BIG, color: '#000', fontFamily: FONT }
    },
    {
      type: 'value', gridIndex: grid, min: -0.6, max: 2.1, position: 'right',
      axisLine: frame, axisTick: tick(anomalyTicks), splitLine: { show: false }, axisLabel: { show: false }
    }
  ];
}

const legendBase = {
  orient: 'vertical', left: 142, padding: 0, itemWidth: 68, itemHeight: 26, itemGap: 6,
  selectedMode: false, itemStyle: { opacity: 0 },
  textStyle: { fontSize: BIG, color: '#000', fontFamily: FONT }
};

const option = {
  animation: false,
  backgroundColor: '#fff',
  textStyle: { fontFamily: FONT, color: '#000' },
  title: {
    text: 'Global mean temperature near\u2013term projections (RCP 4.5)',
    left: 571, top: 5, textAlign: 'center',
    textStyle: { fontSize: 31, fontWeight: 'normal', color: '#000', fontFamily: FONT }
  },
  legend: [
    Object.assign({}, legendBase, {
      top: 72,
      data: [
        { name: NAME_CMIP, lineStyle: { width: 1.5 } },
        { name: NAME_OBS4, lineStyle: { width: 4 } }
      ]
    }),
    Object.assign({}, legendBase, {
      top: 554,
      data: [
        { name: NAME_STOTT, lineStyle: { width: 3.5, type: [15, 10] } },
        { name: NAME_LR, lineStyle: { width: 3.5 } },
        { name: NAME_MINMAX, lineStyle: { width: 3.5 } },
        { name: NAME_BAND, icon: 'rect', itemStyle: { color: '#b3b3b3', opacity: 1, borderWidth: 0 } },
        { name: NAME_OBS, lineStyle: { width: 4 } }
      ]
    })
  ],
  grid: [
    { left: 119, top: 55, width: 903, height: 423 },
    { left: 119, top: 537, width: 903, height: 423 }
  ],
  xAxis: [...xPair(0, false), ...xPair(1, true)],
  yAxis: [...yPair(0), ...yPair(1)],
  series
};

const chart = echarts.init(document.getElementById('chart'), null, { renderer: 'canvas' });
chart.setOption(option);
</script>
</body>
</html>
